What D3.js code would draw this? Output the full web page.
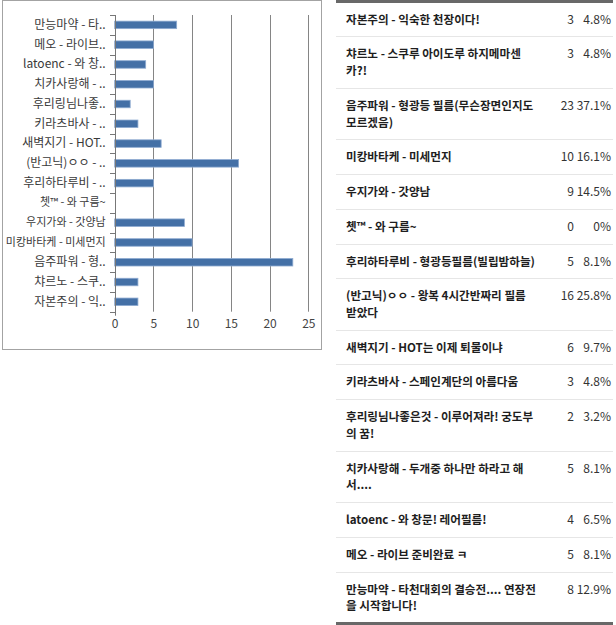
<!DOCTYPE html>
<html><head><meta charset="utf-8">
<script src="https://cdn.jsdelivr.net/npm/d3@7"></script>
<style>
body{margin:0;background:#fff;}
svg{display:block;font-family:"Noto Sans CJK KR","Noto Sans",sans-serif;}
</style>
</head><body>
<svg id="c" width="616" height="625"></svg>
<script>
// ---- data (table order, top to bottom; "\n" = line break as shown in the table) ----
const options = [
  "자본주의 - 익숙한 천장이다!",
  "챠르노 - 스쿠루 아이도루 하지메마센\n카?!",
  "음주파워 - 형광등 필름(무슨장면인지도\n모르겠음)",
  "미캉바타케 - 미세먼지",
  "우지가와 - 갓양남",
  "쳇™ - 와 구름~",
  "후리하타루비 - 형광등필름(빌립밤하늘)",
  "(반고닉)ㅇㅇ - 왕복 4시간반짜리 필름\n받았다",
  "새벽지기 - HOT는 이제 퇴물이냐",
  "키라츠바사 - 스페인계단의 아름다움",
  "후리링님나좋은것 - 이루어져라! 궁도부\n의 꿈!",
  "치카사랑해 - 두개중 하나만 하라고 해\n서....",
  "latoenc - 와 창문! 레어필름!",
  "메오 - 라이브 준비완료 ㅋ",
  "만능마약 - 타천대회의 결승전.... 연장전\n을 시작합니다!"
];
const votes = [3, 3, 23, 10, 9, 0, 5, 16, 6, 3, 2, 5, 4, 5, 8];
const percents = ["4.8%", "4.8%", "37.1%", "16.1%", "14.5%", "0%", "8.1%", "25.8%", "9.7%", "4.8%", "3.2%", "8.1%", "6.5%", "8.1%", "12.9%"];
const axisLabels = [
  "자본주의 - 익..",
  "챠르노 - 스쿠..",
  "음주파워 - 형..",
  "미캉바타케 - 미세먼지",
  "우지가와 - 갓양남",
  "쳇™ - 와 구름~",
  "후리하타루비 - ..",
  "(반고닉)ㅇㅇ - ..",
  "새벽지기 - HOT..",
  "키라츠바사 - ..",
  "후리링님나좋..",
  "치카사랑해 - ..",
  "latoenc - 와 창..",
  "메오 - 라이브..",
  "만능마약 - 타.."
];
const xTicks = [0, 5, 10, 15, 20, 25];

// ---- chart ----
const svg = d3.select("#c");
svg.append("rect").attr("x", 2.5).attr("y", 0.5).attr("width", 319).attr("height", 349)
  .attr("fill", "none").attr("stroke", "#a3a3a3");

const x = d3.scaleLinear().domain([0, 25]).range([114.7, 308.3]);
const order = d3.range(options.length).reverse();
const y = d3.scaleBand().domain(order).range([15, 311.7]).paddingInner(0.62).paddingOuter(0.31);
const top0 = 15, bot0 = 311.7;

const g = svg.append("g");
g.selectAll("line.grid").data(xTicks.filter(t => t > 0)).join("line")
  .attr("class", "grid")
  .attr("x1", d => Math.round(x(d)) + 0.5).attr("x2", d => Math.round(x(d)) + 0.5)
  .attr("y1", top0).attr("y2", bot0)
  .attr("stroke", "#858585").attr("stroke-width", 1);

// bars
g.selectAll("rect.bar").data(votes.map((v, i) => ({v, i})).filter(d => d.v > 0)).join("rect")
  .attr("class", "bar")
  .attr("x", x(0)).attr("y", d => y(d.i))
  .attr("width", d => x(d.v) - x(0)).attr("height", y.bandwidth())
  .attr("fill", "#4470a6").attr("stroke", "#8eabd1").attr("stroke-width", 0.8);

// vertical axis line + category ticks
const ax0 = Math.round(x(0)) + 0.5;
g.append("line").attr("x1", ax0).attr("x2", ax0).attr("y1", top0).attr("y2", bot0 + 4)
  .attr("stroke", "#777");
g.selectAll("line.ct").data(d3.range(options.length + 1)).join("line")
  .attr("class", "ct")
  .attr("x1", ax0 - 5.5).attr("x2", ax0)
  .attr("y1", d => Math.round(top0 + d * y.step()) + 0.5)
  .attr("y2", d => Math.round(top0 + d * y.step()) + 0.5)
  .attr("stroke", "#777");

// category labels
const yAxis = d3.axisLeft(y).tickSize(0).tickPadding(9).tickFormat(i => axisLabels[i]);
const ya = g.append("g").attr("transform", `translate(${x(0)},0)`).call(yAxis);
ya.select(".domain").remove();
ya.selectAll("text")
  .attr("fill", "#3a3a3a")
  .style("font-family", '"Noto Sans CJK KR",sans-serif')
  .style("font-size", (i) => axisLabels[i].endsWith("..") ? "12px" : "11px");

// x tick labels
const xAxis = d3.axisBottom(x).tickValues(xTicks).tickSize(0).tickPadding(8);
const xa = g.append("g").attr("transform", `translate(0,${bot0})`).call(xAxis);
xa.select(".domain").remove();
xa.selectAll("text").attr("fill", "#444").style("font-size", "12px")
  .style("font-family", '"Noto Sans CJK KR",sans-serif');

// ---- table ----
const tL = 336, tR = 613, textX = 346, fs = 11.6, lineH = 16.8;
const fontTxt = '"Noto Sans CJK KR",sans-serif';
const tg = svg.append("g");

let yy = 1.7;
const rows = options.map((o, i) => {
  const lines = o.split("\n");
  const h = 17.9 + lineH * lines.length;
  const r = {i, lines, top: yy, h};
  yy += h;
  return r;
});

const rg = tg.selectAll("g.row").data(rows).join("g").attr("class", "row");
rg.each(function(r) {
  const s = d3.select(this);
  const t = s.append("text").attr("fill", "#1e1e1e")
    .style("font-family", fontTxt).style("font-size", fs + "px").style("font-weight", "bold");
  r.lines.forEach((ln, k) => {
    t.append("tspan").attr("x", textX).attr("y", r.top + 22 + k * lineH).text(ln);
  });
  s.append("text").attr("x", 574).attr("y", r.top + 22).attr("text-anchor", "end")
    .text(votes[r.i]).attr("fill", "#333").style("font-size", "12px");
  s.append("text").attr("x", 611).attr("y", r.top + 22).attr("text-anchor", "end")
    .text(percents[r.i]).attr("fill", "#333").style("font-size", "12px");
  if (r.i < rows.length - 1) {
    const ly = Math.round(r.top + r.h) + 0.5;
    s.append("line").attr("x1", tL).attr("x2", tR).attr("y1", ly).attr("y2", ly)
      .attr("stroke", "#e6e6e6");
  }
});
tg.append("rect").attr("x", tL).attr("y", 0).attr("width", tR - tL).attr("height", 3).attr("fill", "#686868");
tg.append("rect").attr("x", tL).attr("y", 622).attr("width", tR - tL).attr("height", 3).attr("fill", "#686868");
</script>
</body></html>
